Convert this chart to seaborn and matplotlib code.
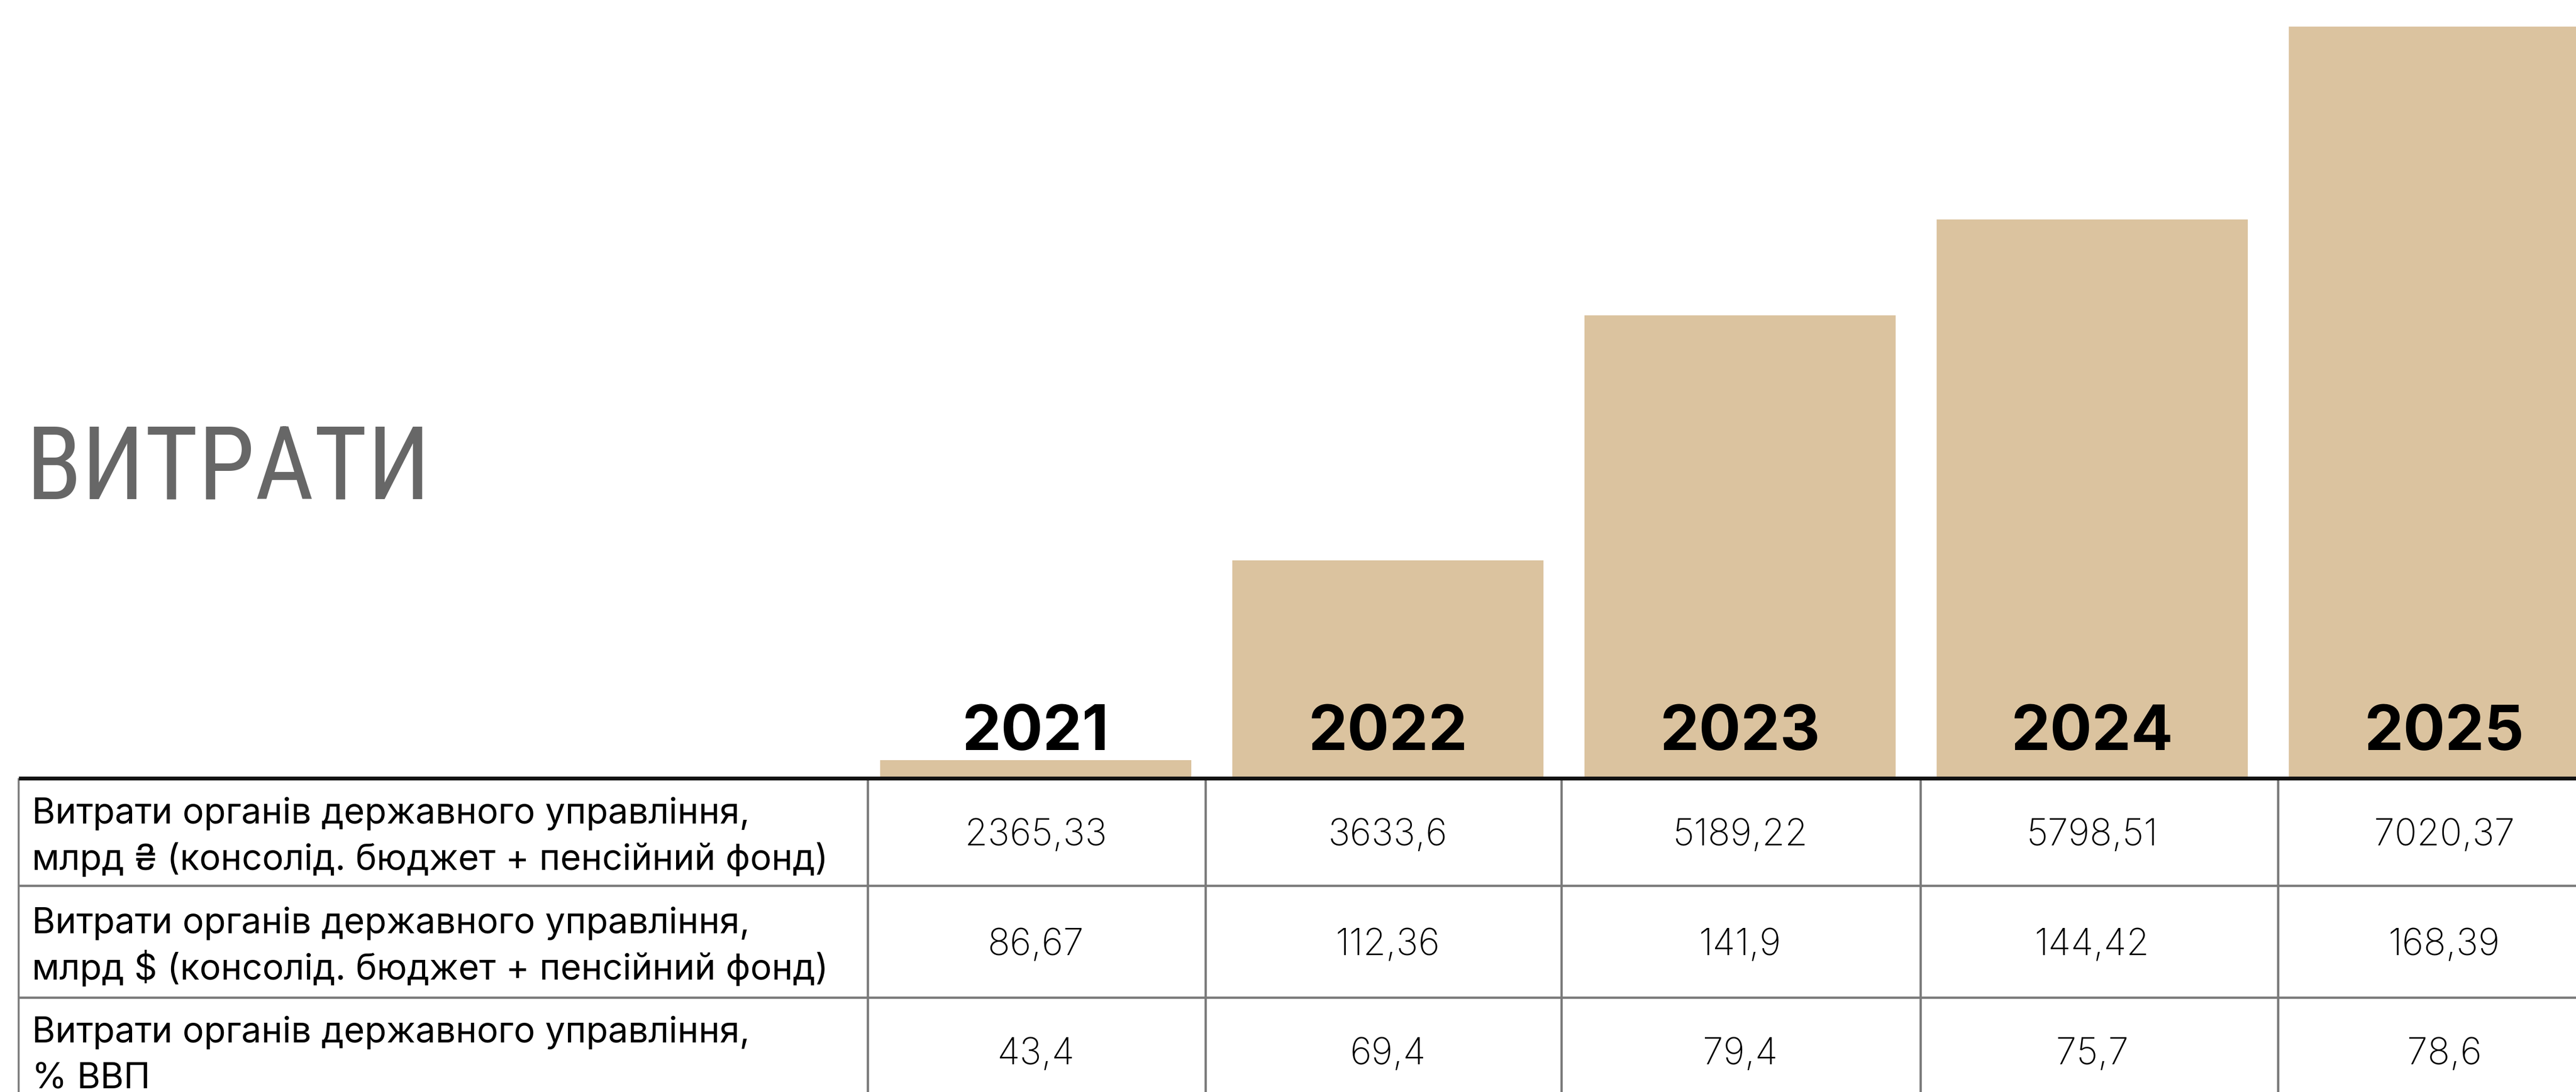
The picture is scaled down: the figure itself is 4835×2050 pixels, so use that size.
import matplotlib
matplotlib.use("Agg")
import matplotlib.pyplot as plt
from matplotlib import font_manager as fm
import seaborn as sns
import pandas as pd

# ---------------- data ----------------
years = ["2021", "2022", "2023", "2024", "2025"]
spend_uah = [2365.33, 3633.6, 5189.22, 5798.51, 7020.37]   # млрд ₴
spend_usd = [86.67, 112.36, 141.9, 144.42, 168.39]          # млрд $
spend_gdp = [43.4, 69.4, 79.4, 75.7, 78.6]                  # % ВВП
row_labels = [
    "Витрати органів державного управління,\nмлрд ₴ (консолід. бюджет + пенсійний фонд)",
    "Витрати органів державного управління,\nмлрд $ (консолід. бюджет + пенсійний фонд)",
    "Витрати органів державного управління,\n% ВВП",
]
title_text = "ВИТРАТИ"


def fmt(v):
    return f"{v}".replace(".", ",")


# ---------------- fonts ----------------
available = {f.name for f in fm.fontManager.ttflist}


def pick(*cands):
    for c in cands:
        if c in available:
            return c
    return "DejaVu Sans"


body_font = pick("Inter", "Roboto", "Noto Sans", "Lato", "DejaVu Sans")
year_font = pick("Inter", "Roboto", "Noto Sans", "DejaVu Sans")
cond_font = pick("Liberation Sans Narrow", "Roboto Condensed", "Open Sans Condensed",
                 "DejaVu Sans Condensed", "DejaVu Sans")

sns.set_theme(style="white")
plt.rcParams["font.family"] = [body_font, "DejaVu Sans"]

# ---------------- layout ----------------
W, H = 4835, 2050
base_px = 1458              # bar baseline (px from top)
x0_px, step_px = 1944, 661  # first bar centre / spacing in px
bar_color = "#dbc39f"
grid_color = "#7b7b7b"

fig = plt.figure(figsize=(W / 100, H / 100), dpi=100)
fig.patch.set_facecolor("white")

ax = fig.add_axes([0, 1 - base_px / H, 1, base_px / H])
df = pd.DataFrame({"year": years, "value": spend_uah})
sns.barplot(data=df, x="year", y="value", color=bar_color, saturation=1,
            width=584 / step_px, edgecolor="none", linewidth=0, ax=ax)


def px2x(px):
    return (px - x0_px) / step_px


ax.set_xlim(px2x(0), px2x(W))
y_floor = 2260
ax.set_ylim(y_floor, 7190)
ax.axis("off")

# year labels inside / above the bars
for i, y in enumerate(years):
    ax.annotate(y, xy=(i, y_floor), xytext=(0, 36), textcoords="offset points",
                ha="center", va="baseline", fontsize=84, fontweight="bold",
                color="black", family=[year_font, "DejaVu Sans"],
                annotation_clip=False)

# ---------------- table ----------------
tab = fig.add_axes([0, 0, 1, 1 - base_px / H], sharex=ax)
tab.set_ylim(H, base_px)
tab.axis("off")

row_edges = [1461, 1663, 1873, 2083]
col_edges_px = [35, 1629, 2263, 2931, 3605, 4276]
x_left = px2x(col_edges_px[0])
x_right = px2x(W + 50)

# grid lines
for yy in row_edges[1:-1]:
    tab.plot([x_left, x_right], [yy, yy], color=grid_color, lw=3.2,
             solid_capstyle="butt", clip_on=False)
for k, cx in enumerate(col_edges_px):
    tab.plot([px2x(cx), px2x(cx)], [row_edges[0], row_edges[-1]], color=grid_color,
             lw=2.6 if k == 0 else 3.2, solid_capstyle="butt", clip_on=False)
tab.plot([x_left, x_right], [row_edges[0], row_edges[0]], color="#111111", lw=5.2,
         solid_capstyle="butt", clip_on=False, zorder=5)

rows = [spend_uah, spend_usd, spend_gdp]
label_texts = []
for r, (lab, vals) in enumerate(zip(row_labels, rows)):
    yc = (row_edges[r] + row_edges[r + 1]) / 2 if r < 2 else row_edges[r] + 100
    lines = lab.split("\n")
    for k, ln in enumerate(lines):
        t = tab.text(px2x(60), yc - 16 + 87 * k, ln, ha="left", va="baseline",
                     fontsize=50, color="black", family=[body_font, "DejaVu Sans"],
                     clip_on=False)
        label_texts.append(t)
    for i, v in enumerate(vals):
        tab.text(i, yc + 25, fmt(v), ha="center", va="baseline", fontsize=50,
                 fontweight="light", color="black",
                 family=[body_font, "DejaVu Sans"], clip_on=False)

# title
title_kw = {}
if cond_font in ("DejaVu Sans", "DejaVu Sans Condensed"):
    title_kw["fontstretch"] = "condensed"
ttl = fig.text(48 / W, 1 - 937 / H, title_text, ha="left", va="baseline",
               fontsize=150, color="#676767", family=[cond_font, "DejaVu Sans"],
               **title_kw)

# fit label font so the longest label line is ~1496 px wide
fig.canvas.draw()
renderer = fig.canvas.get_renderer()
widest = max(t.get_window_extent(renderer).width for t in label_texts)
scale = 1496 / widest
for t in label_texts:
    t.set_fontsize(t.get_fontsize() * scale)

# keep title from being too wide (reference ~600 px)
tw = ttl.get_window_extent(renderer).width
if tw > 760:
    ttl.set_fontsize(ttl.get_fontsize() * 760 / tw)

fig.savefig("out.png", dpi=100, facecolor="white")
